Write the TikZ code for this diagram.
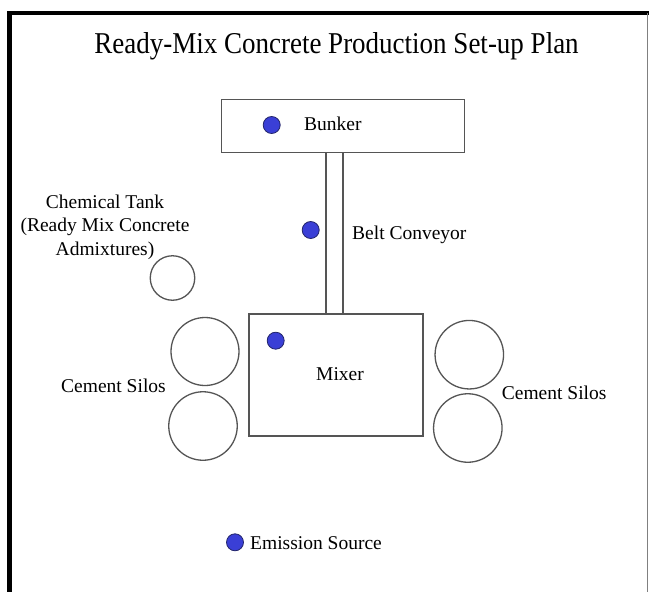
\documentclass[tikz,border=0pt]{standalone}
\usepackage{fontspec}
\setmainfont{Liberation Serif}
\definecolor{dotblue}{HTML}{3A3FD6}
\definecolor{dotedge}{HTML}{22246A}
\definecolor{shapegray}{HTML}{555555}
\begin{document}
\begin{tikzpicture}[x=1pt,y=-1pt,
  outline/.style={draw=shapegray,line width=1.3pt},
  boxshape/.style={outline,rectangle,inner sep=0pt,anchor=north west},
  tank/.style={outline,circle,inner sep=0pt},
  srcdot/.style={circle,fill=dotblue,draw=dotedge,line width=0.8pt,minimum size=17pt,inner sep=0pt},
  lbl/.style={inner sep=0pt,anchor=base west,font=\fontsize{19.5}{22.5}\selectfont},
  ttl/.style={inner sep=0pt,anchor=base,font=\fontsize{27}{30}\selectfont}]
\useasboundingbox (0,0) rectangle (649,592);
\fill[white] (0,0) rectangle (649,592);
% frame
\draw[black,line width=4.8pt] (9.5,600) -- (9.5,13) -- (660,13);
\draw[gray,line width=1.2pt] (647.8,13) -- (647.8,600);
% title
\node[ttl,yscale=1.12] (title) at (336.5,53) {Ready-Mix Concrete Production Set-up Plan};
% bunker
\node[boxshape,minimum width=243pt,minimum height=53pt] (bunker) at (221,99) {};
\node[srcdot] (d1) at (271.7,125) {};
\node[lbl] (tb) at (304,130.7) {Bunker};
% mixer
\node[boxshape,minimum width=174pt,minimum height=122pt] (mixer) at (248.3,313.3) {};
\node[srcdot] (d3) at (275.7,340.7) {};
\node[lbl] (tm) at (316,380) {Mixer};
% belt conveyor
\coordinate (c1t) at (326,152);
\coordinate (c2t) at (343,152);
\coordinate (c1b) at (326,313.3);
\coordinate (c2b) at (343,313.3);
\draw[outline] (c1t) -- (c1b);
\draw[outline] (c2t) -- (c2b);
\node[srcdot] (d2) at (310.7,230) {};
\node[lbl] (tc) at (352,239) {Belt Conveyor};
% chemical tank
\node[tank,minimum size=44.5pt] (chem) at (172.5,278) {};
\node[inner sep=0pt,anchor=base,align=center,font=\fontsize{19.5}{23.3}\selectfont] (tchem) at (105,255)
  {Chemical Tank\\(Ready Mix Concrete\\Admixtures)};
% cement silos left
\node[tank,minimum size=68pt] (s1) at (205,351.5) {};
\node[tank,minimum size=68.5pt] (s2) at (203,426) {};
\node[lbl] (ts1) at (61,392) {Cement Silos};
% cement silos right
\node[tank,minimum size=68.5pt] (s3) at (469.3,354.7) {};
\node[tank,minimum size=68.5pt] (s4) at (467.8,428) {};
\node[lbl] (ts2) at (501.7,399) {Cement Silos};
% legend
\node[srcdot] (d4) at (235,542.3) {};
\node[lbl] (te) at (250,549) {Emission Source};
\end{tikzpicture}
\end{document}
